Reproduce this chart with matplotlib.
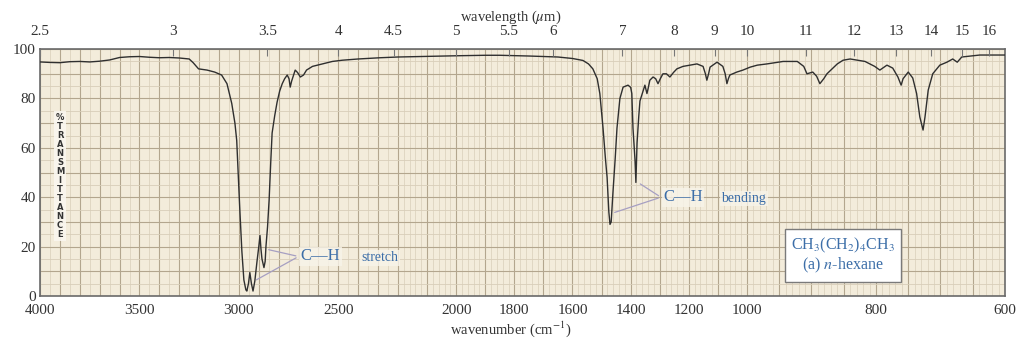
import numpy as np
import matplotlib
matplotlib.use('agg')
import matplotlib.pyplot as plt

plt.rcParams['font.family'] = ['Liberation Serif', 'DejaVu Serif']
plt.rcParams['mathtext.fontset'] = 'stix'

# n-hexane IR spectrum: wavenumber (cm-1) / %T
wavenumber = [4000, 3950, 3900, 3850, 3800, 3750, 3700, 3650, 3600, 3550, 3500,
              3450, 3400, 3350, 3300, 3250, 3230, 3203, 3160, 3122, 3087, 3060,
              3036, 3020, 3011, 2996, 2985, 2975, 2965, 2960, 2952, 2945, 2937,
              2929, 2920, 2909, 2900, 2894, 2889, 2884, 2874, 2868, 2864, 2856,
              2848, 2840, 2833, 2820, 2808, 2795, 2782, 2770, 2757, 2748, 2742,
              2735, 2717, 2705, 2691, 2675, 2660, 2630, 2580, 2530, 2480, 2400,
              2290, 2200, 2124, 2000, 1900, 1850, 1750, 1650, 1600, 1564, 1545,
              1530, 1515, 1506, 1495, 1487, 1481, 1475, 1471, 1467, 1461, 1453,
              1447, 1437, 1426, 1409, 1400, 1396, 1392, 1385, 1382, 1378, 1372,
              1368, 1351, 1344, 1340, 1334, 1323, 1314, 1306, 1298, 1289, 1277,
              1265, 1253, 1241, 1220, 1196, 1172, 1151, 1143, 1138, 1132, 1127,
              1103, 1083, 1075, 1069, 1064, 1059, 1035, 1014, 995, 984, 969, 944,
              922, 912, 907, 898, 892, 887, 881, 876, 860, 851, 840, 817, 802,
              794, 783, 774, 766, 761, 758, 750, 743, 737, 732, 727, 724, 719,
              712, 701, 690, 681, 674, 667, 639, 600]
transmittance = [94.8, 94.6, 94.5, 94.9, 95.0, 94.8, 95.1, 95.6, 96.6, 96.9, 97.0,
                 96.7, 96.5, 96.6, 96.4, 96.0, 94.5, 92.0, 91.5, 90.7, 89.5, 86,
                 78, 70, 63, 36, 18, 6.5, 2.5, 2.0, 5, 9.5, 5,
                 2.0, 6, 14, 20, 24.5, 19, 15, 11.5, 14, 20, 28,
                 39, 54, 66, 73, 78.5, 83, 86, 88, 89.5, 88, 84.6,
                 87, 91.5, 90.5, 88.7, 89.5, 91.5, 93, 94, 95, 95.5, 96,
                 96.5, 96.8, 97, 97.3, 97.5, 97.5, 97.2, 96.8, 96.2, 95.4, 94,
                 92, 88, 82, 68, 56, 48, 34, 29, 30, 41.7, 56,
                 68, 80, 84.6, 85.4, 84.5, 82, 68, 55, 46, 62, 73,
                 79, 85.4, 82, 84, 87.4, 88.7, 88, 86, 88, 90, 90,
                 88.7, 90.5, 92, 93, 93.5, 94, 93, 90, 87.4, 90, 92.7,
                 94.7, 93, 90, 86, 88, 89.5, 90.7, 91.5, 92.7, 93.5, 94, 95,
                 95, 93, 90, 90.7, 89, 86, 88, 90, 94, 95.5, 96, 95, 93,
                 91.5, 93.5, 92.3, 88.7, 85.4, 88, 90.7, 88.3, 82, 72.5, 67.2, 72.5, 83.4,
                 90, 93.5, 94.7, 96, 94.7, 96.8, 97.6, 97.6]

wn_ticks = [4000, 3500, 3000, 2500, 2000, 1800, 1600, 1400, 1200, 1000, 800, 600]
um_ticks = [2.5, 3, 3.5, 4, 4.5, 5, 5.5, 6, 7, 8, 9, 10, 11, 12, 13, 14, 15, 16]
um_labels = ['2.5', '3', '3.5', '4', '4.5', '5', '5.5', '6', '7', '8', '9', '10',
             '11', '12', '13', '14', '15', '16']
t_ticks = [0, 20, 40, 60, 80, 100]

# chart paper has three compressions along the wavenumber axis
brk_wn = [600, 1000, 2200, 4000]
brk_pos = [0, 258, 607, 965]


def fwd(w):
    return np.interp(w, brk_wn, brk_pos)


def inv(t):
    return np.interp(t, brk_pos, brk_wn)


fig = plt.figure(figsize=(10.21, 3.41), dpi=100)
ax = fig.add_axes([0.0392, 0.132, 0.9451, 0.724])
ax.set_xscale('function', functions=(fwd, inv))
ax.set_xlim(4000, 600)
ax.set_ylim(0, 100)
ax.set_facecolor('#f3ecdb')

# grid of the chart paper
major_c, minor_c = '#b3a68e', '#d8ceb9'
for w in np.arange(2200, 4001, 50):
    ax.axvline(w, color=major_c if w % 100 == 0 else minor_c,
               lw=0.8 if w % 100 == 0 else 0.5, zorder=0)
for w in np.arange(1000, 2200, 20):
    ax.axvline(w, color=major_c if w % 100 == 0 else minor_c,
               lw=0.8 if w % 100 == 0 else 0.5, zorder=0)
for w in np.arange(600, 1000, 10):
    ax.axvline(w, color=major_c if w % 50 == 0 else minor_c,
               lw=0.8 if w % 50 == 0 else 0.5, zorder=0)
for t in range(0, 101, 5):
    ax.axhline(t, color=major_c if t % 10 == 0 else minor_c,
               lw=0.8 if t % 10 == 0 else 0.6, zorder=0)

ax.plot(wavenumber, transmittance, color='#2f2f2f', lw=1.0, zorder=3)

for s in ax.spines.values():
    s.set_color('#6a6a6a')
    s.set_linewidth(1.2)

ax.set_xticks(wn_ticks)
ax.set_xticklabels([str(w) for w in wn_ticks])
ax.set_yticks(t_ticks)
ax.tick_params(axis='x', length=0, pad=6, labelsize=11, colors='#333333')
ax.tick_params(axis='y', length=0, pad=3, labelsize=11, colors='#333333')
ax.minorticks_off()

top = ax.twiny()
top.set_xscale('function', functions=(fwd, inv))
top.set_xlim(4000, 600)
top.set_xticks([1e4 / u for u in um_ticks])
top.set_xticklabels(um_labels)
top.minorticks_off()
top.tick_params(axis='x', direction='in', length=5, width=0.8, color='#777777',
                pad=8, labelsize=11, labelcolor='#333333')
for s in top.spines.values():
    s.set_visible(False)

fig.text(0.50, 0.95, r'wavelength ($\mu$m)', ha='center', va='center',
         fontsize=10.5, color='#333333')
fig.text(0.50, 0.035, r'wavenumber (cm$^{-1}$)', ha='center', va='center',
         fontsize=10.5, color='#333333')

ax.text(3899, 48.5, '\n'.join('%TRANSMITTANCE'), ha='center', va='center',
        fontsize=6, fontweight='bold', family='DejaVu Sans', linespacing=1.0,
        color='#333333', zorder=4,
        bbox=dict(fc='#faf7f0', ec='none', pad=1.5, alpha=0.9))

blue = '#3c6ea8'
line_c = '#a69fc2'
txt_bg = dict(fc='#f8f4ea', ec='none', pad=1.0, alpha=0.8)
# C-H stretch callout
for target in [(2864, 19), (2924, 6)]:
    ax.annotate('', xy=target, xytext=(2700, 16),
                arrowprops=dict(arrowstyle='-', color=line_c, lw=0.9), zorder=4)
ax.text(2690, 16, 'C\u2014H', ha='left', va='center', fontsize=12,
        color=blue, zorder=5, bbox=txt_bg)
ax.text(2385, 15.5, 'stretch', ha='left', va='center', fontsize=10,
        color=blue, zorder=5, bbox=txt_bg)

# C-H bending callout
for target in [(1375, 46), (1464, 33.5)]:
    ax.annotate('', xy=target, xytext=(1296, 40),
                arrowprops=dict(arrowstyle='-', color=line_c, lw=0.9), zorder=4)
ax.text(1289, 40, 'C\u2014H', ha='left', va='center', fontsize=12,
        color=blue, zorder=5, bbox=txt_bg)
ax.text(1088, 39.5, 'bending', ha='left', va='center', fontsize=10,
        color=blue, zorder=5, bbox=txt_bg)

ax.text(851, 16.5, r'CH$_3$(CH$_2$)$_4$CH$_3$' + '\n' + r'(a) $n$-hexane',
        ha='center', va='center', fontsize=11.5, color=blue, linespacing=1.1,
        zorder=5,
        bbox=dict(boxstyle='square,pad=0.4', fc='white', ec='#7a7a7a', lw=1.0))

fig.savefig('out.png', dpi=100)
